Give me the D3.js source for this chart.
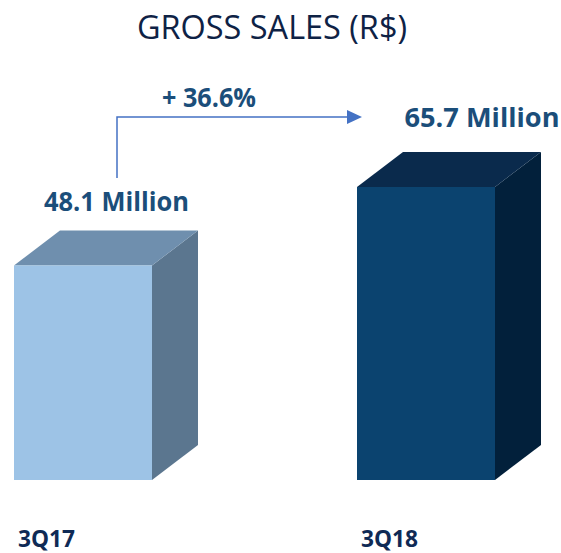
<!DOCTYPE html>
<html><head><meta charset="utf-8">
<script src="https://cdn.jsdelivr.net/npm/d3@7"></script>
<style>html,body{margin:0;padding:0;background:#fff;}svg{display:block;}</style>
</head><body>
<svg id="c" width="561" height="553"></svg>
<script>
const categories = ["3Q17", "3Q18"];
const values = [48.1, 65.7];
const valueLabels = ["48.1 Million", "65.7 Million"];
const growthLabel = "+ 36.6%";
const title = "GROSS SALES (R$)";

const frontColors = ["#9dc3e6", "#0b436f"];
const topColors = ["#6f8fae", "#0a2a4c"];
const sideColors = ["#5b768f", "#02203b"];

const svg = d3.select("#c");
const font = "'Open Sans', 'Liberation Sans', sans-serif";

const x = d3.scaleBand().domain(categories).range([14, 495]).paddingInner(0.5977).paddingOuter(0);
const y = d3.scaleLinear().domain([0, 65.7]).range([480, 187]);
const dx = 46, dy = -35;

svg.append("text").attr("x", 272).attr("y", 39).attr("text-anchor", "middle")
  .attr("font-family", font).attr("font-size", 32).attr("fill", "#0e2245")
  .attr("textLength", 270).attr("lengthAdjust", "spacingAndGlyphs").text(title);

const g = svg.append("g").selectAll("g").data(categories).join("g");
g.each(function(c, i) {
  const sel = d3.select(this);
  const x0 = x(c), x1 = x(c) + x.bandwidth();
  const yt = y(values[i]), yb = y(0);
  sel.append("path").attr("d", `M${x1},${yt}L${x1+dx},${yt+dy}L${x1+dx},${yb+dy}L${x1},${yb}Z`).attr("fill", sideColors[i]);
  sel.append("path").attr("d", `M${x0},${yt}L${x0+dx},${yt+dy}L${x1+dx},${yt+dy}L${x1},${yt}Z`).attr("fill", topColors[i]);
  sel.append("rect").attr("x", x0).attr("y", yt).attr("width", x.bandwidth()).attr("height", yb - yt).attr("fill", frontColors[i]);
});

const labelPos = [{cx: 116.5, dy: -54, w: 145}, {cx: 482, dy: -60, w: 155}];
svg.append("g").selectAll("text").data(categories).join("text")
  .attr("x", (c, i) => labelPos[i].cx)
  .attr("y", (c, i) => y(values[i]) + labelPos[i].dy)
  .attr("text-anchor", "middle")
  .attr("font-family", font).attr("font-weight", "bold").attr("font-size", 27)
  .attr("fill", "#1b4e7a")
  .attr("textLength", (c, i) => labelPos[i].w).attr("lengthAdjust", "spacingAndGlyphs")
  .text((c, i) => valueLabels[i]);

svg.append("g").selectAll("text").data(categories).join("text")
  .attr("x", c => x(c) + 4).attr("y", 547)
  .attr("font-family", font).attr("font-weight", "bold").attr("font-size", 24)
  .attr("fill", "#0f2a55")
  .attr("textLength", 57).attr("lengthAdjust", "spacingAndGlyphs")
  .text(c => c);

const ax = 117, ayBottom = 178, ayTop = 117, axEnd = 362;
svg.append("path").attr("d", `M${ax},${ayBottom}V${ayTop}H${axEnd - 14}`)
  .attr("fill", "none").attr("stroke", "#4472c4").attr("stroke-width", 1.5);
svg.append("path").attr("d", `M${axEnd - 15},${ayTop - 7}L${axEnd},${ayTop}L${axEnd - 15},${ayTop + 7}Z`).attr("fill", "#4472c4");
svg.append("text").attr("x", 209).attr("y", 107).attr("text-anchor", "middle")
  .attr("font-family", font).attr("font-weight", "bold").attr("font-size", 27)
  .attr("fill", "#1b4e7a").attr("textLength", 94).attr("lengthAdjust", "spacingAndGlyphs")
  .text(growthLabel);
</script>
</body></html>
